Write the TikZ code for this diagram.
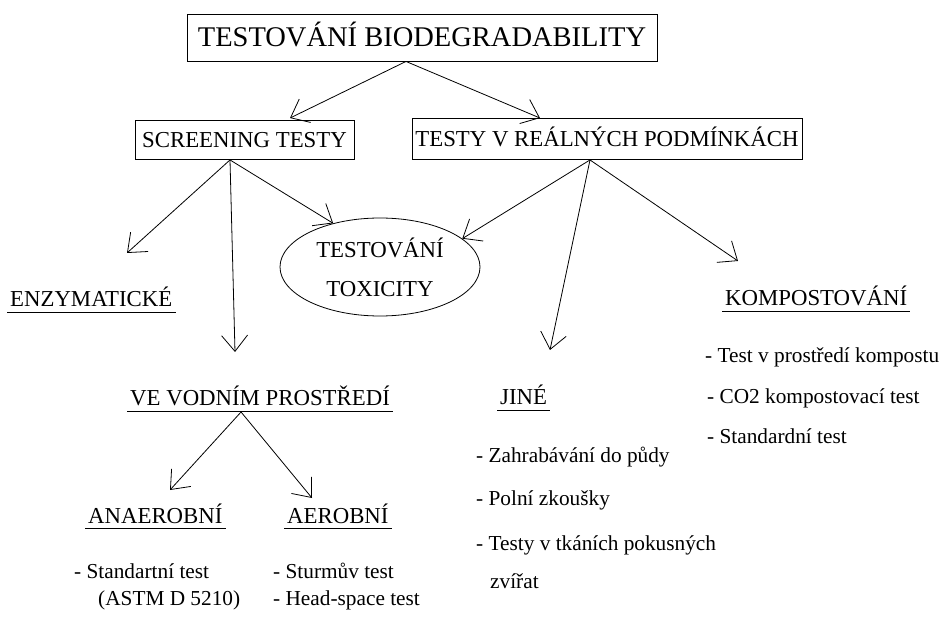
\documentclass[tikz,border=0pt]{standalone}
\usepackage{fontspec}
\setmainfont{Liberation Serif}
\newfontfamily\tnr{Liberation Serif}
\usetikzlibrary{shapes.geometric,arrows.meta}
\newcommand\titlefont{\tnr\fontsize{28.5}{30}\selectfont}
\newcommand\headfont{\tnr\fontsize{22.8}{26}\selectfont}
\newcommand\itemfont{\tnr\fontsize{21.3}{24}\selectfont}
\begin{document}
\begin{tikzpicture}[x=1pt,y=-1pt,
  box/.style={draw, line width=0.9pt, inner sep=0pt, text depth=0pt},
  head/.style={anchor=base west, inner sep=0pt, font=\headfont},
  item/.style={anchor=base west, inner sep=0pt, font=\itemfont},
  arr/.style={line width=0.8pt, -{Straight Barb[length=16pt,width=26pt]}},
  ulline/.style={line width=0.9pt}]
\useasboundingbox (0,0) rectangle (943,620);
\newcommand\underl[1]{\draw[ulline] ([shift={(-3,5)}]#1.base west) -- ([shift={(3,5)}]#1.base east);}

% boxes
\node[box, font=\titlefont, text height=19pt, minimum width=470pt, minimum height=47pt] (title) at (422,37.5) {TESTOVÁNÍ BIODEGRADABILITY};
\node[box, font=\headfont, text height=15pt, minimum width=219pt, minimum height=39pt] (screen) at (244.5,140) {SCREENING TESTY};
\node[box, font=\headfont, text height=15pt, minimum width=390pt, minimum height=41pt] (real) at (607,139) {TESTY V REÁLNÝCH PODMÍNKÁCH};
\node[draw, ellipse, line width=0.8pt, inner sep=0pt, minimum width=200pt, minimum height=98pt,
      font=\headfont, align=center] (tox) at (380,267) {TESTOVÁNÍ\\[13pt]TOXICITY};

% headings
\node[head] (enz) at (10,307) {ENZYMATICKÉ};
\node[head] (komp) at (725,306) {KOMPOSTOVÁNÍ};
\node[head] (jine) at (500,405) {JINÉ};
\node[head] (voda) at (130,406) {VE VODNÍM PROSTŘEDÍ};
\node[head] (ana) at (88,523) {ANAEROBNÍ};
\node[head] (aero) at (287,523) {AEROBNÍ};
\underl{enz}
\underl{komp}
\underl{jine}
\underl{voda}
\underl{ana}
\underl{aero}

% items
\node[item] (k1) at (705,363) {- Test v prostředí kompostu};
\node[item] (k2) at (707,403) {- CO2 kompostovací test};
\node[item] (k3) at (707,443) {- Standardní test};
\node[item] (j1) at (476,462) {- Zahrabávání do půdy};
\node[item] (j2) at (476,505) {- Polní zkoušky};
\node[item] (j3) at (476,550) {- Testy v tkáních pokusných};
\node[item] (j4) at (490,588) {zvířat};
\node[item] (a1) at (74,578) {- Standartní test};
\node[item] (a2) at (98,605) {(ASTM D 5210)};
\node[item] (b1) at (273,578) {- Sturmův test};
\node[item] (b2) at (273,605) {- Head-space test};

% arrow tips
\coordinate (enzTip) at (127,253);
\coordinate (vodaTip) at (235,352);
\coordinate (jineTip) at (550,350);
\coordinate (kompTip) at (738,261);
\coordinate (anaTip) at (170,490);
\coordinate (aeroTip) at (312,498);

% connectors
\draw[arr] ([xshift=-16pt]title.south) -- ([xshift=45.5pt,yshift=2pt]screen.north);
\draw[arr] ([xshift=-16pt]title.south) -- ([xshift=-67pt,yshift=0pt]real.north);
\draw[arr] ([xshift=-14.5pt]screen.south) -- (enzTip);
\draw[arr] ([xshift=-14.5pt]screen.south) -- (vodaTip);
\draw[arr] ([xshift=-14.5pt]screen.south) -- (tox.137);
\draw[arr] ([xshift=-17pt]real.south) -- (tox.19);
\draw[arr] ([xshift=-17pt]real.south) -- (jineTip);
\draw[arr] ([xshift=-17pt]real.south) -- (kompTip);
\draw[arr] ([shift={(-19,6)}]voda.base) -- (anaTip);
\draw[arr] ([shift={(-19,6)}]voda.base) -- (aeroTip);
\end{tikzpicture}
\end{document}
